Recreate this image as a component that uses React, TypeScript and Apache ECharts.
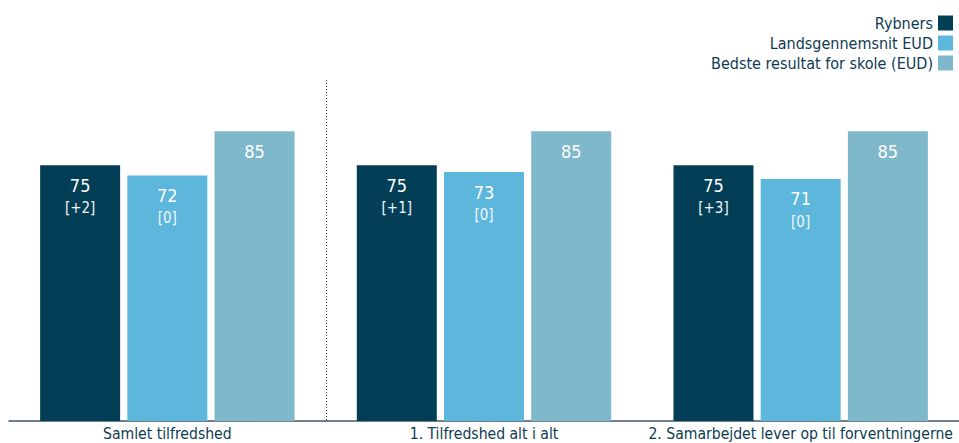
import React, { useEffect, useRef } from "react";
import * as echarts from "echarts";

const categories = ["Samlet tilfredshed", "1. Tilfredshed alt i alt", "2. Samarbejdet lever op til forventningerne"];
const seriesNames = ["Rybners", "Landsgennemsnit EUD", "Bedste resultat for skole (EUD)"];
const rybners = [75, 75, 75];
const rybnersDiff = ["+2", "+1", "+3"];
const landsgennemsnit = [72, 73, 71];
const landsDiff = ["0", "0", "0"];
const bedste = [85, 85, 85];

const FONT = "'DejaVu Sans Condensed', 'DejaVu Sans', sans-serif";
const colors = ["#023f56", "#5db6dc", "#7fb8cb"];

export default function App() {
  const ref = useRef<HTMLDivElement>(null);
  useEffect(() => {
    if (!ref.current) return;
    const chart = echarts.init(ref.current, null, { renderer: "svg" });
    const labelRich = {
      v: { fontSize: 18, lineHeight: 22, color: "#ffffff", fontFamily: FONT },
      d: { fontSize: 15, lineHeight: 24, color: "#f2f6f8", fontFamily: FONT },
    };
    const gridTop = 80;
    const gridBottom = 22;
    chart.setOption({
      animation: false,
      textStyle: { fontFamily: FONT },
      color: colors,
      legend: {
        orient: "vertical",
        right: 1,
        top: 10,
        align: "right",
        icon: "rect",
        itemWidth: 15,
        itemHeight: 15,
        itemGap: 4,
        itemStyle: { borderWidth: 0 },
        textStyle: { fontSize: 16, color: "#0f3a52", fontFamily: FONT },
        data: seriesNames,
      },
      grid: { left: 9, right: 0, top: gridTop, bottom: gridBottom },
      xAxis: {
        type: "category",
        data: categories,
        axisTick: { show: false },
        axisLine: { lineStyle: { color: "#3f5468", width: 1.5 } },
        axisLabel: { fontSize: 15.6, color: "#0d3b52", margin: 5, interval: 0, fontFamily: FONT },
      },
      yAxis: { type: "value", min: 0, max: 100, show: false },
      series: [
        {
          name: seriesNames[0],
          type: "bar",
          barWidth: 80,
          barGap: "9%",
          data: rybners,
          label: {
            show: true,
            position: "insideTop",
            distance: 9,
            formatter: (p: any) => `{v|${p.value}}\n{d|[${rybnersDiff[p.dataIndex]}]}`,
            rich: labelRich,
          },
        },
        {
          name: seriesNames[1],
          type: "bar",
          barWidth: 80,
          barGap: "9%",
          data: landsgennemsnit,
          label: {
            show: true,
            position: "insideTop",
            distance: 9,
            formatter: (p: any) => `{v|${p.value}}\n{d|[${landsDiff[p.dataIndex]}]}`,
            rich: labelRich,
          },
        },
        {
          name: seriesNames[2],
          type: "bar",
          barWidth: 80,
          barGap: "9%",
          data: bedste,
          label: {
            show: true,
            position: "insideTop",
            distance: 9,
            formatter: (p: any) => `{v|${p.value}}`,
            rich: labelRich,
          },
        },
      ],
    });
    // dotted separator between first and second category, from the axis scale
    const x0 = chart.convertToPixel({ xAxisIndex: 0 }, categories[0]) as number;
    const x1 = chart.convertToPixel({ xAxisIndex: 0 }, categories[1]) as number;
    const sepX = Math.round((x0 + x1) / 2) + 0.5;
    const yTop = chart.convertToPixel({ yAxisIndex: 0 }, 100) as number;
    const yBot = chart.convertToPixel({ yAxisIndex: 0 }, 0) as number;
    chart.setOption({
      graphic: [
        {
          type: "line",
          z: 0,
          shape: { x1: sepX, y1: yTop, x2: sepX, y2: yBot },
          style: { stroke: "#333333", lineWidth: 1, lineDash: [1, 2] },
        },
      ],
    });
    return () => chart.dispose();
  }, []);
  return (
    <div
      ref={ref}
      style={{ position: "absolute", left: 0, top: 0, width: 959, height: 443 }}
    />
  );
}
